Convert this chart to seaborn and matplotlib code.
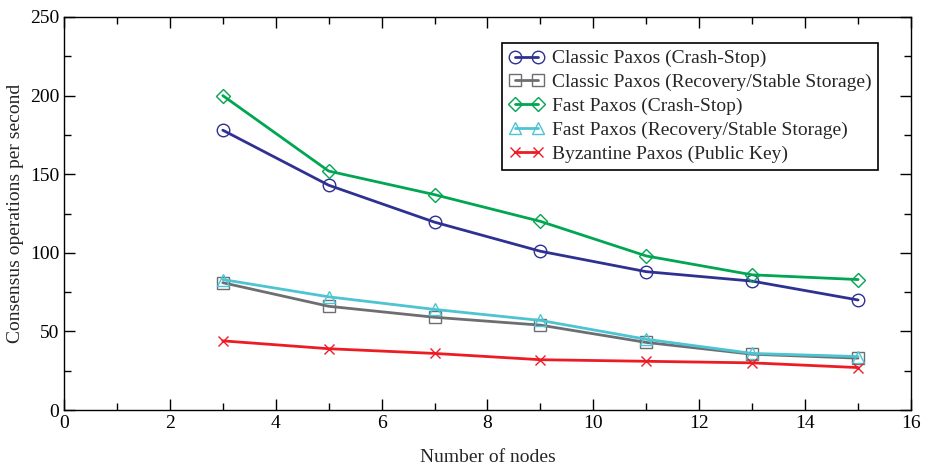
import matplotlib
matplotlib.use("Agg")
import matplotlib.pyplot as plt
from matplotlib.ticker import MultipleLocator
import seaborn as sns
import pandas as pd

nodes = [3, 5, 7, 9, 11, 13, 15]
classic_crash = [178, 143, 119.5, 101, 88, 82, 70]
classic_recovery = [81, 66, 59, 54, 43, 35.5, 33]
fast_crash = [200, 152, 137, 120, 98, 86, 83]
fast_recovery = [83, 72, 64, 57, 45, 36, 34]
byzantine = [44, 39, 36, 32, 31, 30, 27]

series_names = [
    "Classic Paxos (Crash-Stop)",
    "Classic Paxos (Recovery/Stable Storage)",
    "Fast Paxos (Crash-Stop)",
    "Fast Paxos (Recovery/Stable Storage)",
    "Byzantine Paxos (Public Key)",
]
series_values = [classic_crash, classic_recovery, fast_crash, fast_recovery, byzantine]
colors = ["#2e3192", "#6d6e71", "#00a651", "#4dc4d2", "#ed1c24"]
markers = ["o", "s", "D", "^", "x"]
marker_sizes = [9, 8, 7, 9, 7]

sns.set_theme(style="ticks")
plt.rcParams["font.family"] = ["Liberation Serif", "DejaVu Serif"]

fig = plt.figure(figsize=(9.29, 4.67), dpi=100)
ax = fig.add_axes([0.0689, 0.122, 0.9117, 0.8416])

for name, vals, c, m, ms in zip(series_names, series_values, colors, markers, marker_sizes):
    df = pd.DataFrame({"nodes": nodes, "ops": vals})
    sns.lineplot(
        data=df, x="nodes", y="ops", ax=ax, color=c, linewidth=2.0,
        marker=m, markersize=ms, markerfacecolor="none", markeredgecolor=c,
        markeredgewidth=1.0, label=name,
    )

ax.set_xlim(0, 16)
ax.set_ylim(0, 250)
ax.xaxis.set_major_locator(MultipleLocator(2))
ax.xaxis.set_minor_locator(MultipleLocator(1))
ax.yaxis.set_major_locator(MultipleLocator(50))
ax.yaxis.set_minor_locator(MultipleLocator(25))
ax.tick_params(which="both", direction="in", top=True, right=True,
               labelsize=14, colors="black", width=1.0)
ax.tick_params(which="major", length=8)
ax.tick_params(which="minor", length=5)
for s in ax.spines.values():
    s.set_linewidth(1.0)
    s.set_color("black")

ax.set_xlabel("Number of nodes", fontsize=14, labelpad=12)
ax.set_ylabel("Consensus operations per second", fontsize=14)

leg = ax.legend(loc="upper right", fontsize=14, frameon=True,
                fancybox=False, edgecolor="black", framealpha=1,
                numpoints=2, borderpad=0.35, labelspacing=0.32,
                handlelength=1.8, handletextpad=0.4, borderaxespad=0.0)
leg.get_frame().set_linewidth(1.2)
leg.set_bbox_to_anchor((0.9455, 0.908), transform=fig.transFigure)

fig.savefig("out.png", dpi=100)
